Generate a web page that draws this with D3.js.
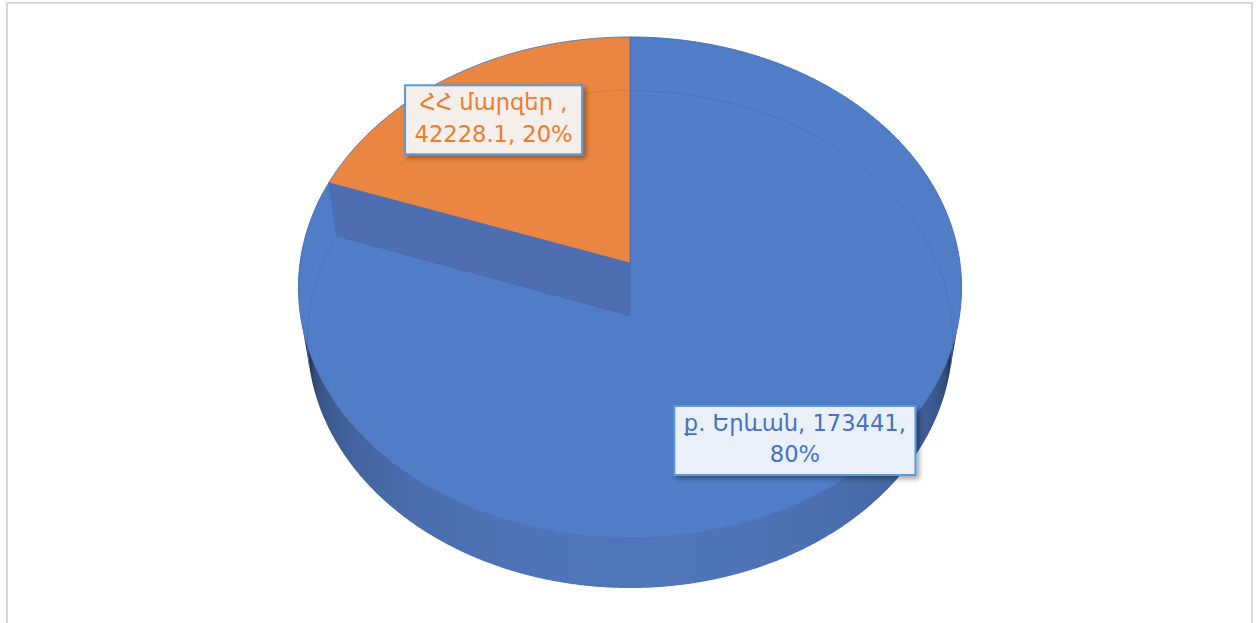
<!DOCTYPE html>
<html><head><meta charset="utf-8">
<script src="https://cdn.jsdelivr.net/npm/d3@7"></script>
<style>html,body{margin:0;padding:0;background:#fff;overflow:hidden} svg{display:block}</style>
</head><body>
<svg id="chart" width="1256" height="623"></svg>
<script>
// ---- data ----
const categories = ["ք. Երևան", "ՀՀ մարզեր "];
const values = [173441, 42228.1];
const valueLabels = ["173441", "42228.1"];
const percentLabels = ["80%", "20%"];
// ---- styles ----
const topColors = ["#517dc7", "#ea8641"];
const edgeColors = ["#4670b8", "#d9783a"];
const hiddenLineColors = ["#4a70b6", "#dc7a3a"];
const textColors = ["#4472c4", "#ed7d31"];
const boxFills = ["#eaf0f9", "#f4efeb"];

const svg = d3.select("#chart");
const defs = svg.append("defs");
const flt = defs.append("filter").attr("id","sh").attr("x","-20%").attr("y","-30%").attr("width","150%").attr("height","170%");
flt.append("feDropShadow").attr("dx",3).attr("dy",3).attr("stdDeviation",2.5).attr("flood-color","#000").attr("flood-opacity",0.35);

// frame
svg.append("rect").attr("x",7).attr("y",3).attr("width",1245).attr("height",640)
  .attr("fill","#fff").attr("stroke","#d9d9d9").attr("stroke-width",2);

// ---- perspective projection of a unit disc ----
const cx=630, cy=263, f=2224, D=6.74, elev=48.76*Math.PI/180, h=0.249;
const se=Math.sin(elev), ce=Math.cos(elev);
const rScale = d3.scaleLinear().domain([0,1]).range([0,1]);
function proj(a, r, z){
  const rr = rScale(r);
  const X = rr*Math.sin(a), Y = rr*Math.cos(a);
  const up = Y*se + z*ce;
  const depth = D + Y*ce - z*se;
  return [cx + f*X/depth, cy - f*up/depth];
}
const line = d3.line();
const pie = d3.pie().sort(null).value(d=>d)(values);
const visThr = -1/(D*ce); // side visible where cos(a) < visThr
const step = Math.PI/360;
const aL = Math.PI + Math.acos(-visThr);   // left silhouette angle
const aR = Math.PI - Math.acos(-visThr);   // right silhouette angle

// ---- side wall (single path, shaded by gradient) ----
const sideLight = "#4f76ba", sideDark = "#24365a";
const xL = proj(aL,1,-h)[0], xR = proj(aR,1,-h)[0];
const grad = defs.append("linearGradient").attr("id","sideGrad").attr("gradientUnits","userSpaceOnUse")
  .attr("x1",xL).attr("x2",xR).attr("y1",0).attr("y2",0);
for (let k=0;k<=40;k++){
  const a = aL - (aL-aR)*k/40;
  const x = proj(a,1,-h)[0];
  let t = (-Math.cos(a) + visThr)/(1+visThr);
  t = Math.pow(Math.max(0,Math.min(1,t)), 0.45);
  grad.append("stop").attr("offset", (x-xL)/(xR-xL)).attr("stop-color", d3.interpolateRgb(sideDark, sideLight)(t));
}
const sidePts = [];
for (let a=aR; a<=aL; a+=step/2) sidePts.push(proj(a,1,0));
for (let a=aL; a>=aR; a-=step/2) sidePts.push(proj(a,1,-h));
svg.append("path").attr("d", line(sidePts)+"Z").attr("fill","url(#sideGrad)");

// ---- top faces ----
function topPts(d){
  const pts=[proj(0,0,0)];
  const n = Math.max(2, Math.ceil((d.endAngle-d.startAngle)/step));
  for (let k=0;k<=n;k++){ const a=d.startAngle+(d.endAngle-d.startAngle)*k/n; pts.push(proj(a,1,0)); }
  return pts;
}
svg.append("path").attr("d", line(topPts(pie[0]))+"Z").attr("fill",topColors[0]).attr("stroke",edgeColors[0]).attr("stroke-width",1);

// faint outline of the hidden bottom rim, per slice
pie.forEach((d,i)=>{
  let seg=[];
  const segs=[];
  for (let a=d.startAngle; a<=d.endAngle+1e-9; a+=step){
    if (Math.cos(a) > visThr+0.02) seg.push(proj(a,1,-h));
    else if (seg.length){ segs.push(seg); seg=[]; }
  }
  if (seg.length) segs.push(seg);
  segs.forEach(s=>{ if (s.length>1) svg.append("path").attr("d", line(s)).attr("fill","none")
    .attr("stroke",hiddenLineColors[i]).attr("stroke-width",1).attr("opacity",0.9); });
});

// radial wall of first slice seen through (as in the reference render)
const wa = pie[0].endAngle;
svg.append("path").attr("d", line([proj(0,0,0), proj(wa,1,0), proj(wa,1,-h), proj(0,0,-h)])+"Z")
  .attr("fill","#4e6eb1").attr("stroke","#4a6aad").attr("stroke-width",0.8);

svg.append("path").attr("d", line(topPts(pie[1]))+"Z").attr("fill",topColors[1]).attr("stroke",edgeColors[0]).attr("stroke-width",0.8);
// hidden rim through orange top drawn again on top of it
(function(){
  const d=pie[1]; const s=[];
  for (let a=d.startAngle; a<=d.endAngle+1e-9; a+=step) if (Math.cos(a) > visThr+0.02) s.push(proj(a,1,-h));
  // keep only the part lying inside the orange face (above the wall)
  const wallTop = proj(wa,1,0);
  const s2 = s.filter(p=>p[1] < wallTop[1]+2);
  if (s2.length>1) svg.append("path").attr("d", line(s2)).attr("fill","none").attr("stroke",hiddenLineColors[1]).attr("stroke-width",1);
})();

// ---- data labels ----
const labelLines = [
  [categories[0] + ", " + valueLabels[0] + ",", percentLabels[0]],
  [categories[1] + ",", valueLabels[1] + ", " + percentLabels[1]]
];
const labelR = [0.81, 0.76];
pie.forEach((d,i)=>{
  const mid = (d.startAngle+d.endAngle)/2;
  const [lx, ly] = proj(mid, labelR[i], 0);
  const g = svg.append("g");
  const rect = g.append("rect");
  const txt = g.append("text").attr("text-anchor","middle")
    .attr("font-family","'DejaVu Sans', 'Liberation Sans', sans-serif")
    .attr("font-size",22.6).attr("fill",textColors[i]);
  const lh = 31.5;
  labelLines[i].forEach((t,k)=>{
    txt.append("tspan").attr("x",lx).attr("y", ly + (k-0.5)*lh + 8).text(t);
  });
  const bb = txt.node().getBBox();
  const padX = 9.5, w = bb.width + 2*padX, hh = 69;
  rect.attr("x", lx - w/2).attr("y", ly - hh/2 + 2).attr("width", w).attr("height", hh)
    .attr("fill", boxFills[i]).attr("stroke","#5b9bd5").attr("stroke-width",2).attr("filter","url(#sh)");
});
</script>
</body></html>
